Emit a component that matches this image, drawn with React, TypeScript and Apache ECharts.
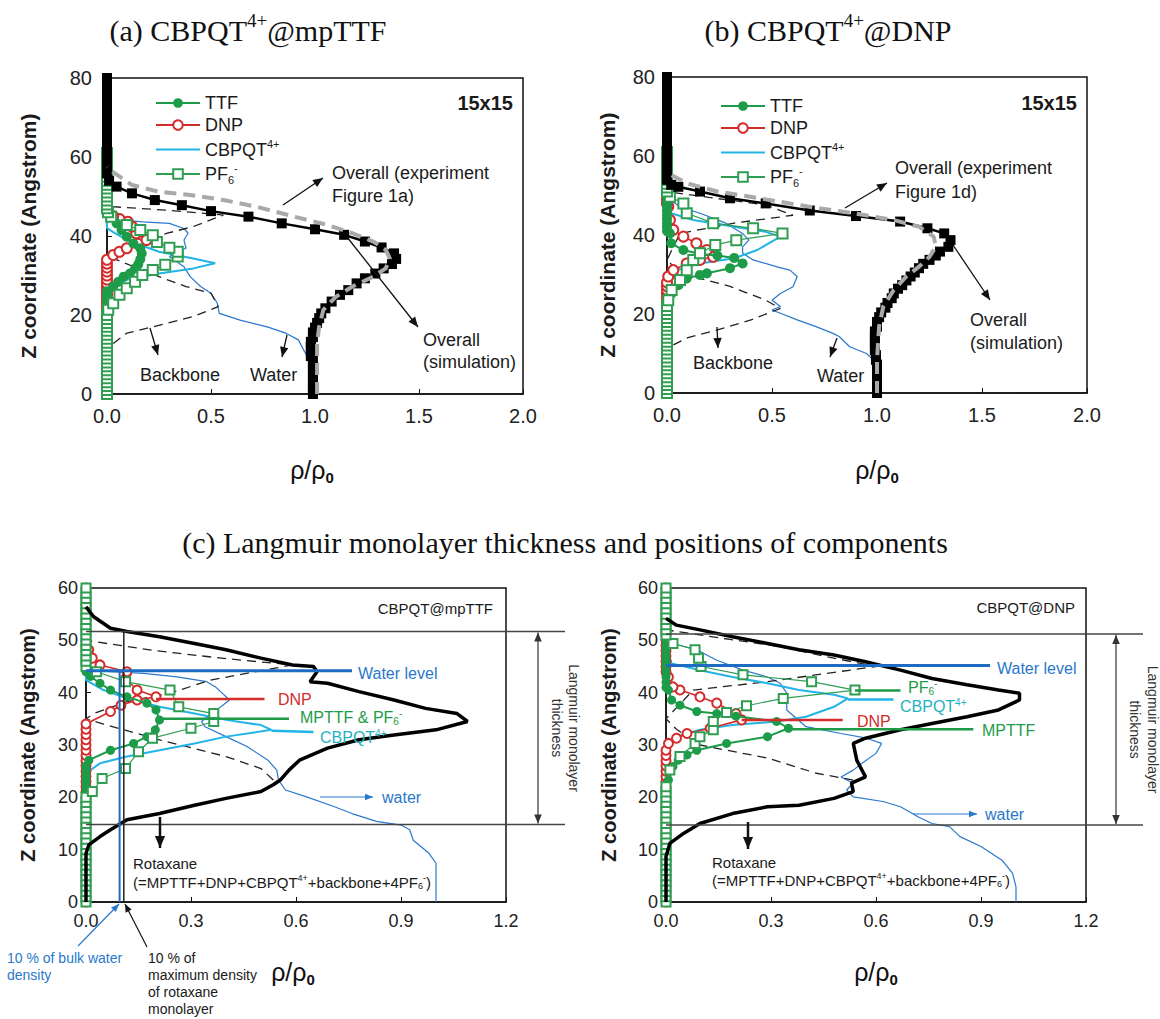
import React, { useEffect, useRef } from 'react';
import * as echarts from 'echarts';

type Pt = [number, number];
const zeroAt = (ys: number[]): Pt[] => ys.map((y) => [0, y] as Pt);

// ---------------- Panel (a) CBPQT4+@mpTTF ----------------
const A_OVERALL_SIM: Pt[] = [
  [0.99, 0], [0.99, 1.2], [0.99, 2.4], [0.99, 3.6], [0.99, 4.8], [0.99, 6], [0.99, 7.2], [0.99, 8.4],
  [0.98, 9.6], [0.98, 10.8], [0.98, 12], [0.98, 13.2], [0.99, 14.4], [0.99, 15.6], [1.0, 16.8], [1.01, 18],
  [1.02, 19.2], [1.03, 20.4], [1.05, 21.7], [1.08, 23.4], [1.12, 25.1], [1.16, 26.3], [1.2, 28], [1.24, 29.3],
  [1.29, 30.5], [1.33, 31.8], [1.37, 32.9], [1.39, 34.2], [1.38, 35.6], [1.32, 37.1], [1.24, 38.6], [1.14, 40.3],
  [1.0, 41.7], [0.84, 43.2], [0.68, 44.9], [0.5, 46.3], [0.36, 47.8], [0.23, 49.1], [0.12, 50.8], [0.046, 52.5],
  [0.01, 54], [0, 55.9],
  ...zeroAt([57, 58, 59, 60, 61, 62, 63, 64, 65, 66, 67, 68, 69, 70, 71, 72, 73, 74, 75, 76, 77, 78, 79, 80]),
];
const A_OVERALL_EXP: Pt[] = [
  [1.01, 0], [1.01, 8.6], [1.01, 12.8], [1.02, 17], [1.04, 21.3], [1.1, 24.6], [1.18, 27.2], [1.28, 29.7],
  [1.34, 31.8], [1.36, 34.3], [1.34, 36.5], [1.28, 38.6], [1.18, 40.7], [1.06, 42.8], [0.9, 44.9], [0.72, 47.4],
  [0.56, 49.1], [0.4, 50.4], [0.25, 51.2], [0.12, 52.9], [0.014, 56.7], [0, 57.5],
];
const A_WATER: Pt[] = [
  [0.99, 0], [0.99, 6], [0.97, 9], [0.95, 10.7], [0.92, 13.7], [0.86, 15.4], [0.77, 17], [0.64, 18.7],
  [0.54, 20.4], [0.53, 23], [0.5, 25.5], [0.45, 27.2], [0.4, 29.7], [0.37, 32.2], [0.3, 34.8], [0.34, 36],
  [0.38, 36.9], [0.37, 39], [0.39, 40.7], [0.37, 41.9], [0.3, 43.2], [0.17, 43.6], [0.08, 44], [0.014, 44.5],
  [0, 45], [0, 61],
];
const A_BACKBONE: Pt[] = [
  [0.03, 12.8], [0.095, 15.4], [0.22, 17], [0.415, 19.6], [0.535, 22.1], [0.5, 25.5], [0.38, 27.2],
  [0.25, 29.7], [0.13, 32.2], [0, 35], [0.14, 38.6], [0.29, 40.7], [0.415, 42.4], [0.56, 45.3], [0.3, 46.5], [0, 47.5],
];
const A_CBPQT: Pt[] = [
  [0, 0], [0, 25.5], [0.04, 27.5], [0.095, 28.9], [0.25, 30.5], [0.415, 31.8], [0.52, 33.1], [0.415, 34.3],
  [0.25, 36], [0.095, 39], [0.03, 41], [0, 42], [0, 61],
];
const A_TTF: Pt[] = [
  ...zeroAt([0, 1, 2, 3, 4, 5, 6, 7, 8, 9, 10, 11, 12, 13, 14, 15, 16, 17, 18, 19, 20, 21, 22, 23, 24, 25, 26]),
  [0.03, 27.2], [0.054, 28.4], [0.08, 29.7], [0.11, 30.5], [0.135, 31.8], [0.15, 32.8], [0.16, 34.1], [0.167, 35.6],
  [0.16, 36.9], [0.127, 38.1], [0.095, 39.8], [0.07, 41.5], [0.046, 43.2], [0.014, 44.9], [0.004, 46],
  ...zeroAt([47, 48, 49, 50, 51, 52, 53, 54, 55, 56, 57, 58, 59, 60, 61]),
];
const A_DNP: Pt[] = [
  ...zeroAt([0, 1, 2, 3, 4, 5, 6, 7, 8, 9, 10, 11, 12, 13, 14, 15, 16, 17, 18, 19, 20, 21, 22, 23, 24, 25, 26, 27, 28, 29, 30, 31, 32, 33, 34]),
  [0.03, 35.2], [0.06, 36], [0.095, 36.9], [0.15, 38], [0.19, 39], [0.14, 40.7], [0.12, 42.4], [0.1, 43.6],
  [0.06, 44.3], [0.03, 45], [0.006, 46.2],
  ...zeroAt([47, 48, 49, 50, 51, 52, 53, 54, 55, 56, 57, 58, 59, 60, 61]),
];
const A_PF6: Pt[] = [
  ...zeroAt([0, 1, 2, 3, 4, 5, 6, 7, 8, 9, 10, 11, 12, 13, 14, 15, 16, 17, 18, 19, 20]),
  [0.006, 21.3], [0.03, 23], [0.06, 25.1], [0.095, 26.8], [0.135, 28.4], [0.17, 30.1], [0.22, 31.4], [0.28, 32.7],
  [0.34, 34.8], [0.34, 36], [0.3, 37], [0.24, 38.5], [0.22, 40.2], [0.16, 41.5], [0.095, 42.8], [0.02, 44.9], [0.005, 46],
  ...zeroAt([47, 48, 49, 50, 51, 52, 53, 54, 55, 56, 57, 58, 59, 60, 61]),
];

// ---------------- Panel (b) CBPQT4+@DNP ----------------
const B_OVERALL_SIM: Pt[] = [
  [1, 0], [1, 1.2], [1, 2.4], [1, 3.6], [1, 4.8], [1, 6], [1, 7.2], [0.995, 8.4], [0.995, 9.6], [0.99, 10.8],
  [0.99, 12], [0.99, 13.2], [0.99, 14.4], [0.99, 15.6], [1.0, 16.8], [1.0, 18], [1.01, 19.2], [1.02, 20.4],
  [1.04, 21.6], [1.05, 22.8], [1.07, 24], [1.08, 25.2], [1.1, 26.4], [1.12, 27.3], [1.14, 28.5], [1.16, 29.5],
  [1.18, 30.5], [1.2, 31.6], [1.22, 32.7], [1.25, 33.7], [1.28, 34.8], [1.3, 35.8], [1.34, 37], [1.35, 38.7],
  [1.32, 40.4], [1.24, 41.7], [1.11, 43.4], [0.9, 44.8], [0.68, 46.2], [0.47, 48], [0.3, 49.3], [0.157, 51],
  [0.054, 52.2], [0.02, 52.7], [0, 54],
  ...zeroAt([55, 56, 57, 58, 59, 60, 61, 62, 63, 64, 65, 66, 67, 68, 69, 70, 71, 72, 73, 74, 75, 76, 77, 78, 79, 80]),
];
const B_OVERALL_EXP: Pt[] = [
  [1, 0], [1, 8.4], [1.01, 16.8], [1.03, 21.9], [1.08, 26.1], [1.14, 29.5], [1.2, 32], [1.25, 34.5], [1.28, 37],
  [1.27, 39.6], [1.2, 42.1], [1.08, 43.8], [0.89, 45.5], [0.67, 47.2], [0.44, 49.3], [0.24, 51], [0.094, 53.1],
  [0.006, 55.6], [0, 56],
];
const B_WATER: Pt[] = [
  [1, 0], [1, 6], [0.98, 8.5], [0.95, 10], [0.87, 11.7], [0.82, 14.3], [0.79, 15.1], [0.71, 16.8], [0.62, 18.5],
  [0.54, 20.2], [0.5, 21], [0.54, 21.9], [0.5, 23.5], [0.54, 25.2], [0.6, 26.9], [0.62, 29.5], [0.585, 31.1],
  [0.52, 32], [0.41, 33.7], [0.36, 35.4], [0.36, 37], [0.39, 38.7], [0.36, 40.4], [0.28, 43], [0.157, 45.5],
  [0.06, 47.2], [0.014, 48.9], [0, 50.5], [0, 61],
];
const B_BACKBONE: Pt[] = [
  [0.03, 12.2], [0.1, 14], [0.24, 16], [0.4, 18.5], [0.54, 21.4], [0.47, 23.5], [0.3, 27], [0.157, 29],
  [0.05, 31], [0, 33.7], [0.062, 40.4], [0.32, 43], [0.6, 45], [0.47, 47.6], [0.2, 49.5], [0, 51],
];
const B_CBPQT: Pt[] = [
  [0, 0], [0, 25.2], [0.006, 28.6], [0.046, 31.1], [0.157, 32.8], [0.32, 34.1], [0.43, 36.2], [0.54, 39.6],
  [0.47, 40.8], [0.32, 42.1], [0.125, 43.8], [0.02, 45.5], [0, 48.9], [0, 61],
];
const B_TTF: Pt[] = [
  ...zeroAt([0, 1, 2, 3, 4, 5, 6, 7, 8, 9, 10, 11, 12, 13, 14, 15, 16, 17, 18, 19, 20, 21, 22]),
  [0.006, 22.7], [0.022, 25.2], [0.054, 27.3], [0.094, 29], [0.157, 29.9], [0.19, 30.3], [0.3, 31.6], [0.36, 32.8],
  [0.32, 34.2], [0.24, 34.8], [0.157, 35.2], [0.078, 36.2], [0.02, 37.9], [0.014, 40.4],
  ...zeroAt([41, 42, 43, 44, 45, 46, 47, 48, 49, 50, 51, 52, 53, 54, 55, 56, 57, 58, 59, 60, 61]),
];
const B_DNP: Pt[] = [
  ...zeroAt([0, 1, 2, 3, 4, 5, 6, 7, 8, 9, 10, 11, 12, 13, 14, 15, 16, 17, 18, 19, 20, 21, 22, 23, 24, 25, 26, 27, 28]),
  [0.006, 29.5], [0.03, 31.1], [0.094, 32.8], [0.157, 33.7], [0.22, 34.5], [0.19, 36.2], [0.14, 37.9], [0.078, 39.6],
  [0.03, 41.3], [0.014, 43.8], [0.006, 47.2],
  ...zeroAt([48, 49, 50, 51, 52, 53, 54, 55, 56, 57, 58, 59, 60, 61]),
];
const B_PF6: Pt[] = [
  ...zeroAt([0, 1, 2, 3, 4, 5, 6, 7, 8, 9, 10, 11, 12, 13, 14, 15, 16, 17, 18, 19, 20, 21, 22]),
  [0.006, 23.5], [0.022, 26.1], [0.062, 28.6], [0.094, 31.1], [0.125, 33.7], [0.157, 35.4], [0.23, 37.5], [0.33, 38.7],
  [0.55, 40.4], [0.41, 41.7], [0.22, 43], [0.094, 45.5], [0.078, 48], [0.014, 49.7],
  ...zeroAt([51, 52, 53, 54, 55, 56, 57, 58, 59, 60, 61]),
];

// ---------------- Panel (c) left: CBPQT@mpTTF ----------------
const CL_ROTAXANE: Pt[] = [
  [0, 0], [0, 9.3], [0.008, 10.9], [0.04, 12.5], [0.07, 13.8], [0.117, 15.7], [0.21, 16.9], [0.31, 18.5], [0.4, 19.8],
  [0.5, 21.1], [0.535, 22.4], [0.555, 23.3], [0.58, 25.2], [0.61, 27.1], [0.69, 29.4], [0.78, 31], [0.88, 31.9],
  [1.0, 32.9], [1.09, 34.5], [1.06, 36], [0.97, 37], [0.88, 38.6], [0.78, 40.2], [0.69, 41.8], [0.64, 42.1],
  [0.66, 44], [0.65, 45], [0.59, 45.3], [0.5, 46.6], [0.4, 48.2], [0.31, 49.4], [0.21, 50.7], [0.117, 51.7],
  [0.07, 52.3], [0.022, 54.5], [0, 56.4],
];
const CL_WATER: Pt[] = [
  [1.0, 0], [1.0, 7.4], [0.98, 9.3], [0.935, 11.8], [0.925, 13.8], [0.9, 14.7], [0.83, 15.4], [0.76, 16.9],
  [0.71, 18.2], [0.63, 20.1], [0.57, 21.4], [0.55, 23.3], [0.545, 25.2], [0.52, 27.1], [0.46, 29.7], [0.4, 31.6],
  [0.34, 33.5], [0.33, 34.5], [0.36, 36], [0.41, 38.6], [0.37, 41.1], [0.345, 42.1], [0.26, 43], [0.165, 43.7],
  [0.07, 44], [0, 44.3], [0, 60],
];
const CL_BACKBONE: Pt[] = [
  [0.535, 23.3], [0.5, 25.5], [0.4, 27.8], [0.21, 31], [0.05, 34], [0, 35], [0.022, 36], [0.117, 38.3],
  [0.24, 39.9], [0.355, 42.4], [0.59, 45.3], [0.4, 46.5], [0.2, 48], [0, 50],
];
const CL_CBPQT: Pt[] = [
  [0, 0], [0, 24.6], [0.04, 26.5], [0.117, 27.8], [0.21, 29], [0.31, 30.3], [0.4, 31.6], [0.53, 32.9], [0.5, 33.8],
  [0.4, 34.8], [0.31, 36], [0.21, 37.3], [0.117, 38.9], [0.05, 40.5], [0, 42.4], [0, 60],
];
const CL_TTF: Pt[] = [
  ...zeroAt([0, 1, 2, 3, 4, 5, 6, 7, 8, 9, 10, 11, 12, 13, 14, 15, 16, 17, 18, 19, 20, 21, 22, 23, 24, 25, 26]),
  [0.008, 27.1], [0.07, 29], [0.136, 30.3], [0.174, 31.6], [0.198, 32.9], [0.21, 34.8], [0.2, 36.7], [0.174, 38],
  [0.117, 39.2], [0.07, 40.5], [0.04, 41.8], [0.013, 43.1],
  ...zeroAt([44, 45, 46, 47, 48, 49, 50, 51, 52, 53, 54, 55, 56, 57, 58, 59, 60]),
];
const CL_DNP: Pt[] = [
  ...zeroAt([0, 1, 2, 3, 4, 5, 6, 7, 8, 9, 10, 11, 12, 13, 14, 15, 16, 17, 18, 19, 20, 21, 22, 23, 24, 25, 26, 27, 28, 29, 30, 31, 32, 33, 34]),
  [0.07, 36.4], [0.1, 37.6], [0.146, 38.6], [0.2, 39.2], [0.146, 40.5], [0.113, 42.7], [0.117, 44], [0.04, 45.3],
  [0.018, 46.6], [0.008, 48.2],
  ...zeroAt([49, 50, 51, 52, 53, 54, 55, 56, 57, 58, 59, 60]),
];
const CL_PF6: Pt[] = [
  ...zeroAt([0, 1, 2, 3, 4, 5, 6, 7, 8, 9, 10, 11, 12, 13, 14, 15, 16, 17, 18, 19, 20]),
  [0.018, 21.1], [0.046, 23.6], [0.113, 25.5], [0.15, 28.7], [0.19, 31.3], [0.3, 33.2], [0.365, 34.5], [0.365, 36],
  [0.265, 37.3], [0.24, 40.5], [0.113, 42.1], [0.03, 44],
  ...zeroAt([45, 46, 47, 48, 49, 50, 51, 52, 53, 54, 55, 56, 57, 58, 59, 60]),
];

// ---------------- Panel (c) right: CBPQT@DNP ----------------
const CR_ROTAXANE: Pt[] = [
  [0, 0], [0, 8.7], [0.011, 11.2], [0.05, 13.1], [0.097, 15], [0.19, 16.9], [0.29, 18.2], [0.38, 18.5], [0.48, 19.8],
  [0.535, 21.1], [0.53, 22.7], [0.57, 23.9], [0.545, 27.1], [0.535, 30.3], [0.57, 31.3], [0.67, 32.9], [0.76, 34.1],
  [0.86, 35.4], [0.95, 36.7], [1.01, 38.6], [1.01, 39.9], [0.95, 40.5], [0.86, 41.5], [0.76, 42.7], [0.67, 44.3],
  [0.57, 45.9], [0.48, 47.2], [0.38, 48.2], [0.29, 49.4], [0.19, 50.7], [0.097, 52], [0.03, 52.9], [0, 54.2],
];
const CR_WATER: Pt[] = [
  [1, 0], [1, 2.9], [0.99, 5.5], [0.96, 8], [0.9, 10.6], [0.84, 12.5], [0.81, 14.4], [0.76, 15], [0.72, 16.3],
  [0.67, 18.2], [0.62, 19.2], [0.535, 20.1], [0.516, 21.4], [0.535, 22.7], [0.5, 23.9], [0.535, 25.2], [0.56, 26.5],
  [0.6, 28.4], [0.616, 30.3], [0.573, 31.3], [0.5, 32.2], [0.4, 33.5], [0.345, 36.7], [0.345, 39.9], [0.326, 41.8],
  [0.29, 43], [0.22, 44.3], [0.145, 46.2], [0.088, 48.2], [0.02, 49.4], [0, 50], [0, 60],
];
const CR_BACKBONE: Pt[] = [
  [0.535, 23.3], [0.43, 24.6], [0.29, 27.5], [0.097, 30], [0.03, 33], [0, 35], [0.078, 40.5], [0.29, 42.1],
  [0.6, 45], [0.45, 47], [0.326, 48.8], [0.15, 50.5], [0, 52],
];
const CR_CBPQT: Pt[] = [
  [0, 0], [0, 27.1], [0.007, 29.7], [0.03, 31.6], [0.097, 32.9], [0.19, 33.8], [0.316, 34.5], [0.4, 35.4],
  [0.48, 37.3], [0.52, 38.9], [0.48, 39.6], [0.38, 40.5], [0.29, 41.8], [0.19, 43], [0.097, 44.3], [0.016, 45.6],
  [0.007, 47.5], [0, 50], [0, 60],
];
const CR_TTF: Pt[] = [
  ...zeroAt([0, 1, 2, 3, 4, 5, 6, 7, 8, 9, 10, 11, 12, 13, 14, 15, 16, 17, 18, 19, 20, 21, 22]),
  [0.007, 23.3], [0.02, 25.9], [0.035, 27.1], [0.06, 28.1], [0.088, 29], [0.173, 30.3], [0.29, 31.6], [0.35, 33.2],
  [0.316, 34.5], [0.2, 35.5], [0.145, 36], [0.088, 36.4], [0.04, 37.6], [0.016, 38.6], [0.007, 40.5],
  ...zeroAt([41, 42, 43, 44, 45, 46, 47, 48, 49, 50, 51, 52, 53, 54, 55, 56, 57, 58, 59, 60]),
];
const CR_DNP: Pt[] = [
  ...zeroAt([0, 1, 2, 3, 4, 5, 6, 7, 8, 9, 10, 11, 12, 13, 14, 15, 16, 17, 18, 19, 20, 21, 22, 23, 24, 25, 26, 27, 28, 29]),
  [0.007, 30.3], [0.03, 31.3], [0.06, 32.2], [0.126, 33.2], [0.216, 34.8], [0.2, 36], [0.145, 38], [0.097, 39.2],
  [0.04, 40.5], [0.02, 41.1], [0.007, 43],
  ...zeroAt([44, 45, 46, 47, 48, 49, 50, 51, 52, 53, 54, 55, 56, 57, 58, 59, 60]),
];
const CR_PF6: Pt[] = [
  ...zeroAt([0, 1, 2, 3, 4, 5, 6, 7, 8, 9, 10, 11, 12, 13, 14, 15, 16, 17, 18, 19, 20, 21, 22]),
  [0.011, 25.2], [0.04, 27.8], [0.083, 30.3], [0.097, 31.6], [0.135, 32.9], [0.135, 34.5], [0.173, 36.2], [0.23, 37.5],
  [0.335, 38.9], [0.54, 40.5], [0.416, 42.1], [0.22, 43.4], [0.1, 45], [0.093, 46.6], [0.083, 48.2], [0.02, 49.4],
  ...zeroAt([51, 52, 53, 54, 55, 56, 57, 58, 59, 60]),
];

// axis ranges and tick labels
const X_MAX = [2, 2, 1.2, 1.2];
const Y_MAX = [80, 80, 60, 60];
const X_STEP = [0.5, 0.5, 0.3, 0.3];
const Y_STEP = [20, 20, 10, 10];
const LEGEND_NAMES = ['TTF', 'DNP', 'CBPQT', 'PF6'];

// ---------------- layout & style ----------------
const GRIDS = [
  { left: 107, top: 78, width: 416, height: 316 },
  { left: 667, top: 77, width: 420, height: 316 },
  { left: 86, top: 588, width: 420, height: 314 },
  { left: 666, top: 588, width: 420, height: 314 },
];
const FS = "'Liberation Sans', Arial, Helvetica, sans-serif";
const SERIF = "'Liberation Serif', 'Times New Roman', serif";
const C_TTF = '#1c9c48';
const C_DNP = '#d42b2b';
const C_CBPQT = '#22b4e6';
const C_PF6 = '#2f9e52';
const C_WATER = '#2a78cc';
const C_LEVEL = '#1d6cc2';
const C_EXP = '#a9a9a9';
const C_TEAL = '#1fb2c2';

function P(g: number, x: number, y: number): [number, number] {
  const G = GRIDS[g];
  return [G.left + (x / X_MAX[g]) * G.width, G.top + G.height - (y / Y_MAX[g]) * G.height];
}

function rich(size: number, color: string, font = FS, weight = 'normal', lhf = 1.3) {
  const lh = Math.round(size * lhf);
  const small = Math.round(size * 0.62);
  return {
    n: { fontSize: size, fill: color, color, fontFamily: font, fontWeight: weight, lineHeight: lh },
    sup: { fontSize: small, fill: color, color, fontFamily: font, fontWeight: weight, lineHeight: small, verticalAlign: 'top' },
    sub: { fontSize: small, fill: color, color, fontFamily: font, fontWeight: weight, lineHeight: small, verticalAlign: 'bottom' },
  };
}

function T(x: number, y: number, text: string, o: any = {}) {
  return {
    type: 'text', x, y, z: 100, rotation: o.rot || 0, silent: true,
    style: {
      text, fontSize: o.size || 18, fontFamily: o.font || FS, fontWeight: o.bold ? 'bold' : 'normal',
      fill: o.color || '#1a1a1a', align: o.align || 'left', verticalAlign: o.valign || 'middle', rich: o.rich,
    },
  };
}

function L(p1: [number, number], p2: [number, number], color: string, lw: number, dash?: number[]) {
  return {
    type: 'line', z: 100, silent: true,
    shape: { x1: p1[0], y1: p1[1], x2: p2[0], y2: p2[1] },
    style: { stroke: color, lineWidth: lw, lineDash: dash },
  };
}

function arrow(x1: number, y1: number, x2: number, y2: number, color = '#111', lw = 1.3, head = 10, both = false) {
  const els: any[] = [L([x1, y1], [x2, y2], color, lw)];
  const addHead = (xa: number, ya: number, xb: number, yb: number) => {
    const ang = Math.atan2(yb - ya, xb - xa);
    const w = head * 0.42;
    const bx = xb - head * Math.cos(ang);
    const by = yb - head * Math.sin(ang);
    els.push({
      type: 'polygon', z: 101, silent: true,
      shape: { points: [[xb, yb], [bx + w * Math.sin(ang), by - w * Math.cos(ang)], [bx - w * Math.sin(ang), by + w * Math.cos(ang)]] },
      style: { fill: color },
    });
  };
  addHead(x1, y1, x2, y2);
  if (both) addHead(x2, y2, x1, y1);
  return els;
}

function panelSeries(g: number, d: any, legendNames: boolean) {
  const ax = { type: 'line', xAxisIndex: g, yAxisIndex: g, clip: false, silent: true };
  const nm = (n: string) => (legendNames ? n : `${n}-${g}`);
  const big = g < 2;
  const s: any[] = [
    { ...ax, name: `water-${g}`, data: d.water, symbol: 'none', lineStyle: { color: C_WATER, width: 1.2 }, z: 2 },
    { ...ax, name: `backbone-${g}`, data: d.backbone, symbol: 'none', lineStyle: { color: '#222', width: 1.3, type: [9, 6] }, z: 2 },
    { ...ax, name: nm('CBPQT'), data: d.cbpqt, symbol: 'none', lineStyle: { color: C_CBPQT, width: 2 }, itemStyle: { color: C_CBPQT }, z: 3 },
    {
      ...ax, name: nm('DNP'), data: d.dnp, symbol: 'emptyCircle', symbolSize: big ? 10 : 9,
      lineStyle: { color: C_DNP, width: 1.6 }, itemStyle: { color: C_DNP, borderWidth: 1.2 }, z: 4,
    },
    {
      ...ax, name: nm('TTF'), data: d.ttf, symbol: 'circle', symbolSize: big ? 10 : 9,
      lineStyle: { color: C_TTF, width: 2 }, itemStyle: { color: C_TTF }, z: 5,
    },
    {
      ...ax, name: nm('PF6'), data: d.pf6, symbol: 'emptyRect', symbolSize: big ? 10 : 9,
      lineStyle: { color: C_PF6, width: 1.2 }, itemStyle: { color: C_PF6, borderWidth: 1.2 }, z: 6,
    },
  ];
  if (d.sim) {
    s.push({ ...ax, name: `sim-${g}`, data: d.sim, symbol: 'rect', symbolSize: 10, lineStyle: { color: '#000', width: 2.5 }, itemStyle: { color: '#000' }, z: 7 });
    s.push({ ...ax, name: `exp-${g}`, data: d.exp, symbol: 'none', lineStyle: { color: C_EXP, width: 4, type: [12, 7] }, z: 8 });
  }
  if (d.rot) {
    s.push({ ...ax, name: `rot-${g}`, data: d.rot, symbol: 'none', lineStyle: { color: '#000', width: 3.5 }, z: 7 });
  }
  return s;
}

function buildOption() {
  const series = [
    ...panelSeries(0, { water: A_WATER, backbone: A_BACKBONE, cbpqt: A_CBPQT, dnp: A_DNP, ttf: A_TTF, pf6: A_PF6, sim: A_OVERALL_SIM, exp: A_OVERALL_EXP }, true),
    ...panelSeries(1, { water: B_WATER, backbone: B_BACKBONE, cbpqt: B_CBPQT, dnp: B_DNP, ttf: B_TTF, pf6: B_PF6, sim: B_OVERALL_SIM, exp: B_OVERALL_EXP }, true),
    ...panelSeries(2, { water: CL_WATER, backbone: CL_BACKBONE, cbpqt: CL_CBPQT, dnp: CL_DNP, ttf: CL_TTF, pf6: CL_PF6, rot: CL_ROTAXANE }, false),
    ...panelSeries(3, { water: CR_WATER, backbone: CR_BACKBONE, cbpqt: CR_CBPQT, dnp: CR_DNP, ttf: CR_TTF, pf6: CR_PF6, rot: CR_ROTAXANE }, false),
  ];

  const legendFmt = (n: string) => {
    if (n === 'CBPQT') return '{n|CBPQT}{sup|4+}';
    if (n === 'PF6') return '{n|PF}{sub|6}{sup|-}';
    return `{n|${n}}`;
  };
  const legendData = LEGEND_NAMES.map((n) => (n === 'CBPQT' ? { name: n, itemStyle: { opacity: 0 } } : { name: n }));
  const legendBase = {
    orient: 'vertical', itemWidth: 44, itemHeight: 12, itemGap: 4, selectedMode: false,
    data: legendData, formatter: legendFmt,
    textStyle: { rich: rich(18, '#1a1a1a') },
  };

  const g: any[] = [];
  const serifRich = rich(30, '#111', SERIF);
  g.push(T(248, 30, '{n|(a) CBPQT}{sup|4+}{n|@mpTTF}', { rich: serifRich, align: 'center' }));
  g.push(T(828, 30, '{n|(b) CBPQT}{sup|4+}{n|@DNP}', { rich: serifRich, align: 'center' }));
  g.push(T(565, 542, '(c) Langmuir monolayer thickness and positions of components', { font: SERIF, size: 30, color: '#111', align: 'center' }));

  // axis titles
  const yT = 'Z coordinate (Angstrom)';
  g.push(T(28, 236, yT, { rot: Math.PI / 2, bold: true, size: 21, align: 'center' }));
  g.push(T(607, 235, yT, { rot: Math.PI / 2, bold: true, size: 21, align: 'center' }));
  g.push(T(28, 745, yT, { rot: Math.PI / 2, bold: true, size: 20, align: 'center' }));
  g.push(T(609, 745, yT, { rot: Math.PI / 2, bold: true, size: 20, align: 'center' }));
  const rhoRich = {
    r: { fontSize: 25, fontFamily: FS, fill: '#111', color: '#111', lineHeight: 30 },
    s: { fontSize: 15, fontFamily: FS, fontWeight: 'bold', fill: '#111', color: '#111', lineHeight: 15, verticalAlign: 'bottom' },
  };
  g.push(T(312, 470, '{r|ρ/ρ}{s|0}', { rich: rhoRich, align: 'center' }));
  g.push(T(877, 470, '{r|ρ/ρ}{s|0}', { rich: rhoRich, align: 'center' }));
  g.push(T(293, 972, '{r|ρ/ρ}{s|0}', { rich: rhoRich, align: 'center' }));
  g.push(T(876, 972, '{r|ρ/ρ}{s|0}', { rich: rhoRich, align: 'center' }));

  // panel (a) annotations
  g.push(T(513, 103, '15x15', { bold: true, size: 20, align: 'right' }));
  g.push(T(332, 173, 'Overall (experiment'), T(332, 196, 'Figure 1a)'));
  g.push(...arrow(283, 205, 323, 178));
  g.push(T(423, 340, 'Overall'), T(423, 362, '(simulation)'));
  g.push(...arrow(347, 237, 418, 327));
  g.push(T(140, 375, 'Backbone'), ...arrow(150, 328, 158, 355));
  g.push(T(250, 375, 'Water'), ...arrow(287, 335, 282, 357));

  // panel (b) annotations
  g.push(T(1077, 103, '15x15', { bold: true, size: 20, align: 'right' }));
  g.push(T(895, 168, 'Overall (experiment'), T(895, 192, 'Figure 1d)'));
  g.push(...arrow(845, 208, 887, 183));
  g.push(T(970, 320, 'Overall'), T(970, 343, '(simulation)'));
  g.push(...arrow(953, 245, 990, 300));
  g.push(T(693, 363, 'Backbone'), ...arrow(717, 327, 718, 348));
  g.push(T(817, 376, 'Water'), ...arrow(837, 338, 830, 357));

  // panel (c) shared pieces
  const langmuir = (gi: number, yTop: number, yBot: number, xEnd: number, xArrow: number, xT1: number, xT2: number) => {
    const a = P(gi, 0, yTop);
    const b = P(gi, 0, yBot);
    g.push(L(a, [xEnd, a[1]], '#444', 1.5), L(b, [xEnd, b[1]], '#444', 1.5));
    g.push(...arrow(xArrow, a[1] + 1, xArrow, b[1] - 1, '#333', 1.2, 9, true));
    g.push(T(xT1, (a[1] + b[1]) / 2, 'Langmuir monolayer', { rot: -Math.PI / 2, size: 14, color: '#333', align: 'center' }));
    g.push(T(xT2, (a[1] + b[1]) / 2, 'thickness', { rot: -Math.PI / 2, size: 14, color: '#333', align: 'center' }));
  };
  const rotaxaneText = '{n|(=MPTTF+DNP+CBPQT}{sup|4+}{n|+backbone+4PF}{sub|6}{sup|-}{n|)}';
  const lab = (size: number, color: string) => rich(size, color, FS, 'normal', 1.1);

  // (c) left
  g.push(T(493, 608, 'CBPQT@mpTTF', { size: 15, align: 'right' }));
  langmuir(2, 51.7, 14.8, 565, 538, 574, 557);
  g.push(L(P(2, 0.108, 0), P(2, 0.108, 51.7), '#222', 1.5));
  g.push(L(P(2, 0.096, 0), P(2, 0.096, 44.2), C_LEVEL, 2));
  g.push(L(P(2, 0, 44.2), P(2, 0.76, 44.2), C_LEVEL, 3), T(358, 673, 'Water level', { size: 16, color: C_WATER }));
  g.push(L(P(2, 0.2, 38.8), P(2, 0.51, 38.8), C_DNP, 2.5), T(278, 699, 'DNP', { size: 16, color: C_DNP }));
  g.push(L(P(2, 0.21, 35), P(2, 0.58, 35), C_TTF, 2.5), T(300, 717, '{n|MPTTF & PF}{sub|6}{sup|-}', { rich: lab(16, C_TTF) }));
  g.push(L(P(2, 0.53, 32.7), P(2, 0.65, 32.5), C_CBPQT, 2.5), T(320, 737, '{n|CBPQT}{sup|4+}', { rich: lab(16, C_TEAL) }));
  g.push(...arrow(320, 797, 373, 797, C_WATER, 1.2, 8), T(382, 797, 'water', { size: 16, color: C_WATER }));
  g.push(...arrow(160, 817, 160, 848, '#111', 2.5, 12));
  g.push(T(133, 863, 'Rotaxane', { size: 15 }), T(133, 882, rotaxaneText, { rich: lab(15, '#1a1a1a') }));
  g.push(...arrow(78, 946, 119, 904, C_WATER, 1.2, 8));
  g.push(T(7, 958, '10 % of bulk water', { size: 14, color: C_WATER }), T(7, 975, 'density', { size: 14, color: C_WATER }));
  g.push(...arrow(147, 947, 125, 904, '#111', 1.2, 8));
  g.push(T(148, 958, '10 % of', { size: 14 }), T(148, 975, 'maximum density', { size: 14 }));
  g.push(T(148, 992, 'of rotaxane', { size: 14 }), T(148, 1009, 'monolayer', { size: 14 }));

  // (c) right
  g.push(T(1075, 607, 'CBPQT@DNP', { size: 15, align: 'right' }));
  langmuir(3, 51.2, 14.7, 1143, 1116, 1153, 1135);
  g.push(L(P(3, 0, 45.2), P(3, 0.926, 45.2), C_LEVEL, 3), T(997, 668, 'Water level', { size: 16, color: C_WATER }));
  g.push(L(P(3, 0.54, 40.4), P(3, 0.67, 40.4), C_TTF, 2.5), T(908, 687, '{n|PF}{sub|6}{sup|-}', { rich: lab(16, C_TTF) }));
  g.push(L(P(3, 0.52, 38.7), P(3, 0.65, 38.7), C_CBPQT, 2.5), T(900, 706, '{n|CBPQT}{sup|4+}', { rich: lab(16, C_TEAL) }));
  g.push(L(P(3, 0.216, 34.8), P(3, 0.505, 34.8), C_DNP, 2.5), T(857, 721, 'DNP', { size: 16, color: C_DNP }));
  g.push(L(P(3, 0.35, 33), P(3, 0.878, 33), C_TTF, 2.5), T(982, 730, 'MPTTF', { size: 16, color: C_TTF }));
  g.push(...arrow(913, 814, 977, 814, C_WATER, 1.2, 8), T(985, 814, 'water', { size: 16, color: C_WATER }));
  g.push(...arrow(748, 822, 748, 849, '#111', 2.5, 12));
  g.push(T(712, 862, 'Rotaxane', { size: 15 }), T(712, 880, rotaxaneText, { rich: lab(15, '#1a1a1a') }));

  const yLabelMargin = [15, 12, 8, 8];
  return {
    animation: false,
    backgroundColor: '#fff',
    grid: GRIDS.map((G) => ({ ...G, show: true, borderColor: '#111', borderWidth: 1.5, containLabel: false })),
    legend: [
      { ...legendBase, left: 150, top: 89 },
      { ...legendBase, left: 715, top: 92 },
    ],
    xAxis: GRIDS.map((_, i) => ({
      type: 'value', gridIndex: i, min: 0, max: X_MAX[i], interval: X_STEP[i],
      axisLine: { show: true, onZero: false, lineStyle: { color: '#111', width: 1.5 } },
      axisTick: { show: true, inside: true, length: 5, lineStyle: { color: '#111' } },
      axisLabel: { fontSize: i < 2 ? 20 : 18, color: '#222', fontFamily: FS, margin: i < 2 ? 12 : 10, formatter: (v: number) => v.toFixed(1) },
      splitLine: { show: false },
    })),
    yAxis: GRIDS.map((_, i) => ({
      type: 'value', gridIndex: i, min: 0, max: Y_MAX[i], interval: Y_STEP[i],
      axisLine: { show: true, onZero: false, lineStyle: { color: '#111', width: 1.5 } },
      axisTick: { show: true, inside: true, length: 5, lineStyle: { color: '#111' } },
      axisLabel: { fontSize: i < 2 ? 20 : 18, color: '#222', fontFamily: FS, margin: yLabelMargin[i] },
      splitLine: { show: false },
    })),
    series,
    graphic: { elements: g },
  };
}

export default function App() {
  const ref = useRef<HTMLDivElement>(null);
  useEffect(() => {
    if (!ref.current) return;
    const chart = echarts.init(ref.current, null as any, { renderer: 'svg' });
    chart.setOption(buildOption() as any);
    return () => chart.dispose();
  }, []);
  return (
    <div
      ref={ref}
      style={{ position: 'absolute', left: 0, top: 0, width: 1160, height: 1019, background: '#fff' }}
    />
  );
}
